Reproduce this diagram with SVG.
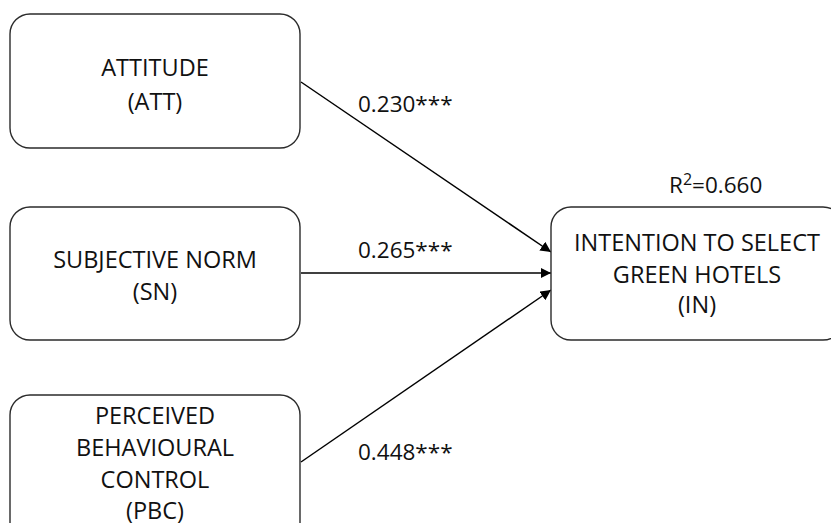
<svg xmlns="http://www.w3.org/2000/svg" width="831" height="523" viewBox="0 0 831 523">
  <style>
    .box { fill: #ffffff; stroke: #2b2b2b; stroke-width: 1.4; }
    .lbl { font-family: "Open Sans", "Liberation Sans", sans-serif; font-size: 23.5px; fill: #111111; text-anchor: middle; }
    .coef { font-family: "Open Sans", "Liberation Sans", sans-serif; font-size: 22.5px; fill: #111111; }
    .edge { stroke: #000000; stroke-width: 1.5; fill: none; marker-end: url(#arrow); }
  </style>
  <defs>
    <marker id="arrow" viewBox="0 0 10 10" refX="10" refY="5" markerWidth="7" markerHeight="7" markerUnits="strokeWidth" orient="auto">
      <path d="M0,0 L10,5 L0,10 Z" fill="#000000"/>
    </marker>
  </defs>
  <rect width="831" height="523" fill="#ffffff"/>

  <g id="connectors">
    <line class="edge" x1="301" y1="82" x2="551" y2="252"/>
    <line class="edge" x1="301" y1="273" x2="551" y2="273"/>
    <line class="edge" x1="301" y1="462" x2="551" y2="290"/>
    <text class="coef" x="358" y="112">0.230***</text>
    <text class="coef" x="358" y="258">0.265***</text>
    <text class="coef" x="358" y="460">0.448***</text>
  </g>

  <g id="att">
    <rect class="box" x="10" y="14" width="290" height="134" rx="20" ry="20"/>
    <text class="lbl" x="155" y="76">ATTITUDE</text>
    <text class="lbl" x="155" y="110">(ATT)</text>
  </g>

  <g id="sn">
    <rect class="box" x="10" y="207" width="290" height="133" rx="20" ry="20"/>
    <text class="lbl" x="155" y="268">SUBJECTIVE NORM</text>
    <text class="lbl" x="155" y="300">(SN)</text>
  </g>

  <g id="pbc">
    <rect class="box" x="10" y="395" width="290" height="160" rx="20" ry="20"/>
    <text class="lbl" x="155" y="424">PERCEIVED</text>
    <text class="lbl" x="155" y="456">BEHAVIOURAL</text>
    <text class="lbl" x="155" y="488">CONTROL</text>
    <text class="lbl" x="155" y="519">(PBC)</text>
  </g>

  <g id="in">
    <rect class="box" x="551" y="207" width="292" height="133" rx="20" ry="20"/>
    <text class="lbl" x="697" y="251">INTENTION TO SELECT</text>
    <text class="lbl" x="697" y="283">GREEN HOTELS</text>
    <text class="lbl" x="697" y="313">(IN)</text>
    <text class="coef" x="669" y="193">R<tspan dy="-8" font-size="16">2</tspan><tspan dy="8">=0.660</tspan></text>
  </g>
</svg>
